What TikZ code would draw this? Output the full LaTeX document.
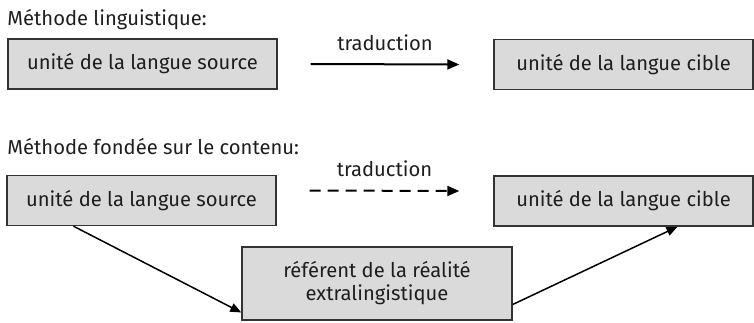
\documentclass[tikz,border=0pt]{standalone}
\usepackage{fontspec}
\setmainfont{Fira Sans}
\usepackage{tikz}
\usetikzlibrary{arrows.meta, positioning, calc}
\definecolor{boxFill}{HTML}{DADADA}
\definecolor{boxLine}{HTML}{333333}
\definecolor{textGrey}{HTML}{1E1E1E}
\tikzset{
    % Boxes
    unitBox/.style={rectangle, draw=boxLine, line width=0.7pt, fill=boxFill,
        inner sep=0pt, minimum height=25pt, align=center, text=textGrey},
    srcBox/.style={unitBox, minimum width=134.5pt},
    tgtBox/.style={unitBox, minimum width=129.5pt},
    refBox/.style={unitBox, minimum width=135pt, minimum height=36.5pt},
    % Headings and labels
    heading/.style={anchor=west, inner sep=0pt, text=textGrey},
    transLabel/.style={midway, yshift=11pt, inner sep=0pt, text=textGrey},
    % Arrows
    arrowTrans/.style={-{Triangle[length=6pt,width=5pt]}, line width=1pt, draw=black},
    arrowTransDashed/.style={arrowTrans, dash pattern=on 5.5pt off 3.5pt},
    arrowRef/.style={-{Triangle[length=5.5pt,width=4.5pt]}, line width=0.75pt, draw=black}
}
\begin{document}
\begin{tikzpicture}[x=0.5pt, y=-0.5pt, font=\fontsize{10.1}{11.5}\selectfont]
    \useasboundingbox (0,0) rectangle (754,322);

    % Methode linguistique
    \node[heading] (headLing) at (7,20) {Méthode linguistique:};
    \node[srcBox] (srcLing) at (142.5,64) {unité de la langue source};
    \node[tgtBox] (tgtLing) at (623.5,64.5) {unité de la langue cible};
    \draw[arrowTrans] ([xshift=16.5pt]srcLing.east) -- ([xshift=-17pt]tgtLing.west)
        node[transLabel] {traduction};

    % Methode fondee sur le contenu
    \node[heading] (headCont) at (7,147) {Méthode fondée sur le contenu:};
    \node[srcBox] (srcCont) at (141.5,200.5) {unité de la langue source};
    \node[tgtBox] (tgtCont) at (623.5,201) {unité de la langue cible};
    \node[refBox] (refCont) at (377,283.5) {référent de la réalité\\extralingistique};
    \draw[arrowTransDashed] ([xshift=16.5pt,yshift=5pt]srcCont.east) -- ([xshift=-17pt,yshift=5pt]tgtCont.west)
        node[transLabel] {traduction};
    \draw[arrowRef] ([xshift=-34pt]srcCont.south) -- ([yshift=-14.5pt]refCont.west);
    \draw[arrowRef] ([yshift=-10.5pt]refCont.east) -- ([xshift=27pt]tgtCont.south);
\end{tikzpicture}
\end{document}
